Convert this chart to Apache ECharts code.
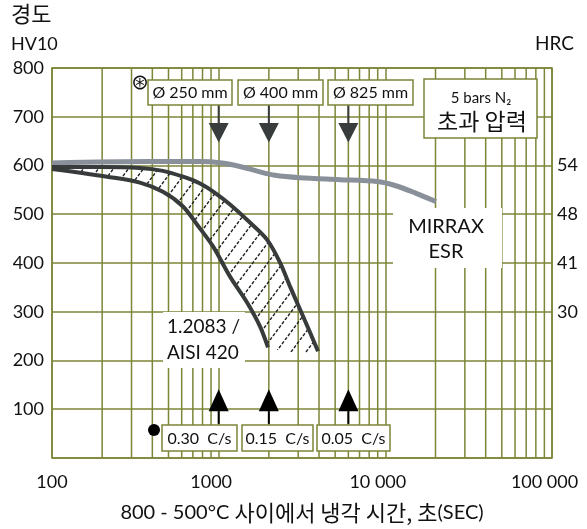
<!DOCTYPE html>
<html>
<head>
<meta charset="utf-8">
<script src="https://cdn.jsdelivr.net/npm/echarts@6/dist/echarts.min.js"></script>
<style>
html, body { margin: 0; padding: 0; background: #fff; }
#chart { width: 587px; height: 529px; }
</style>
</head>
<body>
<div id="chart"></div>
<script>
// cooling time 800-500 °C (s) against hardness HV10
const mirraxTime = [100, 387, 773, 1047, 1342, 1721, 2177, 3075, 5343, 8909, 11420, 15060, 20130];
const mirraxHV   = [605, 608, 608, 605, 598, 588, 580, 575, 571, 567, 559, 544, 526];

// 1.2083 / AISI 420 band
const upperTime = [100, 194, 337, 463, 611, 773, 950, 1170, 1540, 1950, 2335, 2680, 3075, 3530, 3945];
const upperHV   = [597, 597, 595, 589, 577, 563, 544, 520, 483, 448, 401, 352, 305, 258, 219];
const lowerTime = [100, 134, 214, 337, 463, 611, 741, 925, 1170, 1480, 1770, 1977];
const lowerHV   = [593, 587, 577, 565, 546, 516, 479, 434, 372, 319, 270, 227];

const xTickValues = [100, 1000, 10000, 100000];
const xTickLabels = ['100', '1000', '10 000', '100 000'];
const hrcAtHV = [600, 500, 400, 300];
const hrcLabels = ['54', '48', '41', '30'];

const arrowTime = [1000, 2000, 6000];
const diameterLabels = ['Ø 250 mm', 'Ø 400 mm', 'Ø 825 mm'];
const rateLabels = ['0.30  C/s', '0.15  C/s', '0.05  C/s'];
// HV levels: box edge, triangle base, tip
const downArrowHV = [724, 687, 647];
const upArrowHV = [70, 96, 141];

const olive = '#7d8537';
const ink = '#111';
const font = "Lato, 'DejaVu Sans', 'Noto Sans CJK KR', sans-serif";
const kfont = "'Noto Sans CJK KR', Lato, sans-serif";

const zip = (xs, ys) => xs.map((x, i) => [x, ys[i]]);

// vertical minor grid lines 2..9 in each decade
const minorTimes = [];
[100, 1000, 10000].forEach(d => {
    for (let k = 2; k <= 9; k++) minorTimes.push(d * k);
});

function hatchCanvas() {
    const c = document.createElement('canvas');
    c.width = 15;
    c.height = 20;
    const ctx = c.getContext('2d');
    ctx.strokeStyle = '#222';
    ctx.lineWidth = 1.4;
    ctx.setLineDash([3.2, 1.8]);
    for (const dx of [-15, 0, 15]) {
        ctx.beginPath();
        ctx.moveTo(dx, 20);
        ctx.lineTo(dx + 15, 0);
        ctx.stroke();
    }
    return c;
}
const hatch = hatchCanvas();

function txt(text, x, y, size, align, family) {
    return {
        type: 'text', z: 60, x: x, y: y,
        style: {
            text: text, fontSize: size, fontFamily: family || font, fill: ink,
            align: align || 'center', verticalAlign: 'middle',
            textAlign: align || 'center', textVerticalAlign: 'middle'
        }
    };
}
function box(x, y, w, h, border) {
    return {
        type: 'rect', z: 55,
        shape: {x: x, y: y, width: w, height: h},
        style: {fill: '#fff', stroke: border ? olive : null, lineWidth: border ? 1.5 : 0}
    };
}

const diaBoxes = [[148, 80, 84], [238, 80, 85], [328, 80, 85]];
const rateBoxes = [[162, 425, 75], [242, 425, 71], [317, 425, 73]];

const graphics = [
    txt('경도', 11, 14, 22, 'left', kfont),
    txt('HV10', 11, 44, 18, 'left'),
    txt('HRC', 535, 44, 19, 'left'),
    txt('⊛', 140, 84, 21, 'center', "'DejaVu Sans', sans-serif"),
    {type: 'circle', z: 60, shape: {cx: 154, cy: 430, r: 6}, style: {fill: '#000'}},
    box(424, 79, 113, 59, true),
    txt('5 bars N₂', 481, 98, 15),
    txt('초과 압력', 482, 121, 23, 'center', kfont),
    box(393, 208, 109, 60, false),
    txt('MIRRAX', 446, 227, 20),
    txt('ESR', 446, 252, 20),
    box(163, 312, 82, 56, false),
    txt('1.2083 /', 167, 327, 19, 'left'),
    txt('AISI 420', 167, 353, 19, 'left')
];
diaBoxes.forEach((b, i) => {
    graphics.push(box(b[0], b[1], b[2], 25, true));
    graphics.push(txt(diameterLabels[i], b[0] + b[2] / 2, b[1] + 13, 16));
});
rateBoxes.forEach((b, i) => {
    graphics.push(box(b[0], b[1], b[2], 26, true));
    graphics.push(txt(rateLabels[i], b[0] + b[2] / 2, b[1] + 13.5, 16));
});

function arrowSeries(levels, color) {
    return {
        type: 'custom', z: 6, silent: true,
        data: arrowTime.map(t => [t, levels[2]]),
        renderItem: function (params, api) {
            const t = api.value(0);
            const p0 = api.coord([t, levels[0]]);
            const p1 = api.coord([t, levels[1]]);
            const p2 = api.coord([t, levels[2]]);
            return {
                type: 'group',
                children: [
                    {type: 'line', shape: {x1: p0[0], y1: p0[1], x2: p1[0], y2: p1[1]},
                        style: {stroke: color, lineWidth: 2}},
                    {type: 'polygon', shape: {points: [[p1[0] - 10, p1[1]], [p1[0] + 10, p1[1]], p2]},
                        style: {fill: color}}
                ]
            };
        }
    };
}

const chart = echarts.init(document.getElementById('chart'));
const option = {
    animation: false,
    grid: {left: 52, right: 35, top: 68, bottom: 70, show: true, borderColor: olive, borderWidth: 1.5},
    xAxis: {
        type: 'log', logBase: 10, min: 100, max: 100000, splitNumber: 3,
        axisLine: {show: false}, axisTick: {show: false},
        splitLine: {show: true, lineStyle: {color: olive, width: 1.5}},
        axisLabel: {
            margin: 15, color: ink, fontSize: 18, fontFamily: font,
            formatter: function (v) {
                const i = xTickValues.indexOf(Math.round(v));
                if (i < 0) return '';
                return i === 0 ? '{a|' + xTickLabels[i] + '}' : '{b|' + xTickLabels[i] + '}';
            },
            rich: {
                a: {fontSize: 18, fontFamily: font, color: ink},
                b: {fontSize: 18, fontFamily: font, color: ink, padding: [0, 15, 0, 0]}
            }
        },
        name: '{l|800 - 500°C }{k|사이에서 냉각 시간, 초}{l|(SEC)}',
        nameLocation: 'middle', nameGap: 44,
        nameTextStyle: {
            fontSize: 20, color: ink, fontFamily: font,
            rich: {
                l: {fontSize: 20, color: ink, fontFamily: font},
                k: {fontSize: 22, color: ink, fontFamily: kfont}
            }
        }
    },
    yAxis: [{
        type: 'value', min: 0, max: 800, interval: 100,
        axisLine: {show: false}, axisTick: {show: false},
        splitLine: {show: true, lineStyle: {color: olive, width: 1.5}},
        axisLabel: {
            margin: 8, color: ink, fontSize: 18, fontFamily: font,
            formatter: v => (v === 0 ? '' : String(v))
        }
    }, {
        type: 'value', min: 0, max: 800, interval: 100, position: 'right',
        axisLine: {show: false}, axisTick: {show: false}, splitLine: {show: false},
        axisLabel: {
            margin: 5, color: ink, fontSize: 18, fontFamily: font,
            formatter: function (v) {
                const i = hrcAtHV.indexOf(v);
                return i < 0 ? '' : hrcLabels[i];
            }
        }
    }],
    series: [
        {
            type: 'custom', z: 1, silent: true,
            data: minorTimes.map(t => [t, 0]),
            renderItem: function (params, api) {
                const a = api.coord([api.value(0), 0]);
                const b = api.coord([api.value(0), 800]);
                return {type: 'line', shape: {x1: a[0], y1: a[1], x2: b[0], y2: b[1]},
                    style: {stroke: olive, lineWidth: 1.5}};
            }
        },
        {
            type: 'custom', z: 2, silent: true,
            data: [[1000, 400]],
            renderItem: function (params, api) {
                const pts = zip(upperTime, upperHV).map(p => api.coord(p))
                    .concat(zip(lowerTime, lowerHV).reverse().map(p => api.coord(p)));
                return {type: 'polygon', shape: {points: pts, smooth: 0.3},
                    style: {fill: {image: hatch, repeat: 'repeat'}}};
            }
        },
        {
            name: 'MIRRAX ESR', type: 'line', z: 3, smooth: 0.3, symbol: 'none', silent: true,
            data: zip(mirraxTime, mirraxHV),
            lineStyle: {color: '#899099', width: 5}
        },
        {
            name: '1.2083 upper', type: 'line', z: 4, smooth: 0.3, symbol: 'none', silent: true,
            data: zip(upperTime, upperHV),
            lineStyle: {color: '#383b3b', width: 4}
        },
        {
            name: '1.2083 lower', type: 'line', z: 4, smooth: 0.3, symbol: 'none', silent: true,
            data: zip(lowerTime, lowerHV),
            lineStyle: {color: '#383b3b', width: 4}
        },
        arrowSeries(downArrowHV, '#393c3c'),
        arrowSeries(upArrowHV, '#000')
    ],
    graphic: graphics
};
chart.setOption(option);
</script>
</body>
</html>
